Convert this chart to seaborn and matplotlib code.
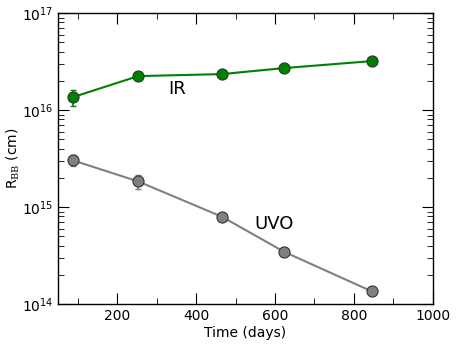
import matplotlib
matplotlib.use("Agg")
import matplotlib.pyplot as plt
import seaborn as sns
import numpy as np
import pandas as pd
from matplotlib.ticker import MultipleLocator, LogLocator

sns.set_style("ticks")
plt.rcParams['font.family'] = ['DejaVu Sans']
plt.rcParams['mathtext.fontset'] = 'custom'
plt.rcParams['mathtext.rm'] = 'DejaVu Serif'
plt.rcParams['mathtext.it'] = 'DejaVu Serif:italic'
for k in ['text.color', 'axes.labelcolor', 'xtick.color', 'ytick.color']:
    plt.rcParams[k] = 'black'

days = [88, 253, 466, 623, 846]
ir_r = [1.36e16, 2.24e16, 2.35e16, 2.71e16, 3.2e16]
ir_err = [0.25e16, 0.2e16, 0.1e16, 0.1e16, 0.1e16]
uvo_r = [3.03e15, 1.84e15, 7.94e14, 3.46e14, 1.35e14]
uvo_err = [0.4e15, 0.3e15, 0.3e14, 0.1e14, 0.05e14]

df = pd.DataFrame({
    "days": days * 2,
    "r": ir_r + uvo_r,
    "band": ["IR"] * 5 + ["UVO"] * 5,
})

fig = plt.figure(figsize=(4.57, 3.44), dpi=100)
ax = fig.add_axes([0.127, 0.116, 0.820, 0.846])

colors = {"IR": "#008000", "UVO": "#808080"}
for band, err in [("IR", ir_err), ("UVO", uvo_err)]:
    sub = df[df.band == band]
    ax.errorbar(sub["days"], sub["r"], yerr=err, fmt="none",
                ecolor=colors[band], elinewidth=1.2, capsize=2, zorder=2)
    sns.lineplot(data=sub, x="days", y="r", ax=ax, color=colors[band],
                 marker="o", markersize=8, markeredgecolor="#333333",
                 markeredgewidth=0.8, linewidth=1.5, zorder=3,
                 legend=False)

ax.set_yscale("log")
ax.set_xlim(50, 1000)
ax.set_ylim(1e14, 1e17)
ax.xaxis.set_major_locator(MultipleLocator(200))
ax.xaxis.set_minor_locator(MultipleLocator(100))
ax.yaxis.set_minor_locator(LogLocator(base=10, subs=np.arange(2, 10)))
ax.tick_params(which="both", direction="in", top=True, right=True,
               labelsize=10, colors="black")
ax.tick_params(which="major", length=8)
ax.tick_params(which="minor", length=4)
for s in ax.spines.values():
    s.set_linewidth(1.0)
    s.set_color("black")

ax.set_xlabel("Time (days)", fontsize=10, labelpad=2, color="black")
ax.set_ylabel(r"R$_{\rm BB}$ (cm)", fontsize=10, labelpad=0, color="black")

ax.text(352, 1.64e16, "IR", fontsize=13, ha="center", va="center", color="black")
ax.text(597, 6.7e14, "UVO", fontsize=13, ha="center", va="center", color="black")

fig.savefig("out.png", dpi=100)
